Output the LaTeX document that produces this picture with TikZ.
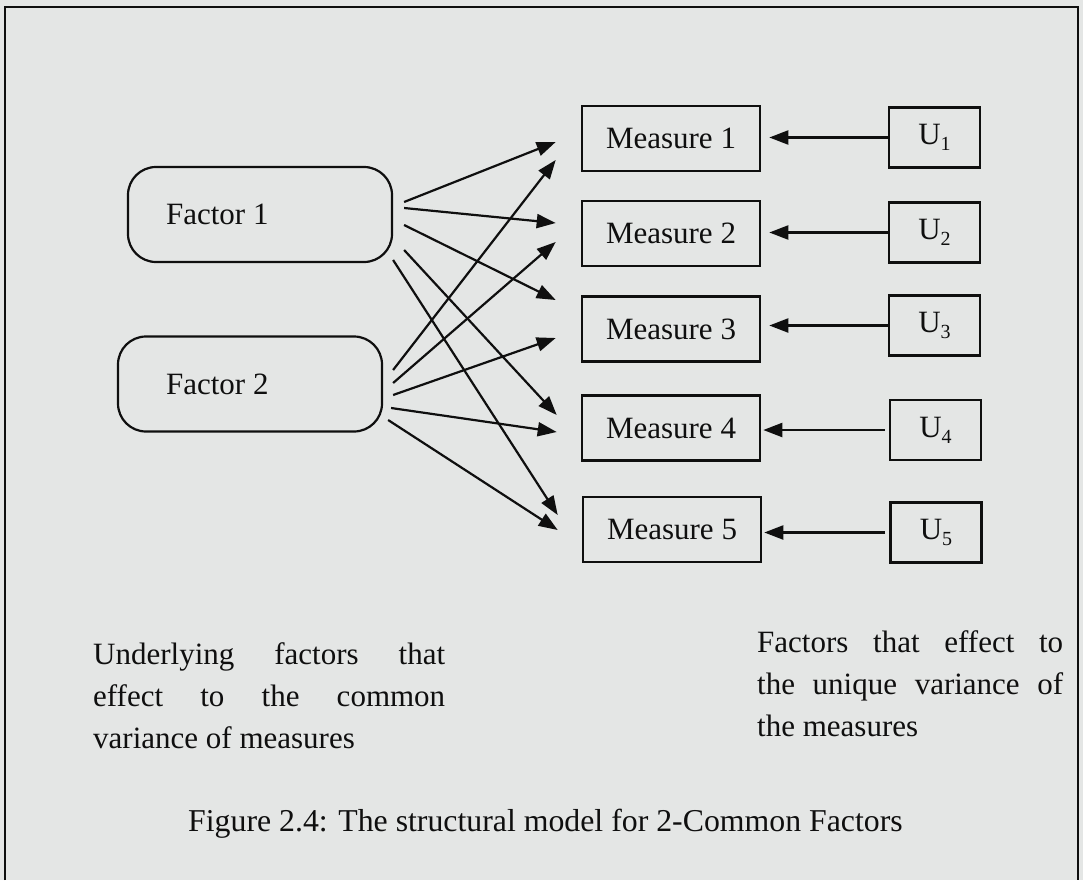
\documentclass[tikz,border=0pt]{standalone}
\usepackage{fontspec}
\setmainfont{Liberation Serif}
\usetikzlibrary{arrows.meta}
\definecolor{paper}{RGB}{228,230,229}
\definecolor{ink}{RGB}{15,15,15}
\newcommand{\usub}[1]{U\raisebox{-6pt}{\fontsize{20}{20}\selectfont #1}}
\begin{document}
\begin{tikzpicture}[x=1pt,y=-1pt,
  font=\fontsize{31}{37}\selectfont,
  every node/.style={text=ink},
  factorbox/.style={draw=ink,line width=2.2pt,rounded corners=28pt,minimum width=264pt,minimum height=95pt,inner sep=0pt},
  measurebox/.style={draw=ink,line width=2.6pt,minimum width=178pt,minimum height=65pt,inner sep=0pt},
  ubox/.style={draw=ink,line width=2.6pt,minimum width=91pt,minimum height=60pt,inner sep=0pt},
  arr/.style={draw=ink,line width=2.2pt,-{Triangle[length=19pt,width=14pt]}},
  plain/.style={anchor=base west,inner sep=0pt}
]
\useasboundingbox (0,0) rectangle (1083,880);
\fill[paper] (0,0) rectangle (1083,880);
% frame
\draw[ink,line width=2.2pt] (5,880) -- (5,7) -- (1078,7) -- (1078,880);

% factor boxes
\node[factorbox] (f1) at (260,214.5) {};
\node[factorbox] (f2) at (250,384) {};
\node[anchor=west,inner sep=0pt] (f1t) at ([xshift=39pt]f1.west) {Factor 1};
\node[anchor=west,inner sep=0pt] (f2t) at ([xshift=49pt]f2.west) {Factor 2};

% measure boxes
\node[measurebox] (m1) at (671,138.5) {Measure 1};
\node[measurebox] (m2) at (671,233.5) {Measure 2};
\node[measurebox] (m3) at (671,329) {Measure 3};
\node[measurebox] (m4) at (671,428) {Measure 4};
\node[measurebox] (m5) at (672,529.5) {Measure 5};

% unique boxes
\node[ubox] (u1) at (934.5,137.5) {\usub{1}};
\node[ubox] (u2) at (934.5,232.5) {\usub{2}};
\node[ubox] (u3) at (934.5,325.5) {\usub{3}};
\node[ubox] (u4) at (935.5,430) {\usub{4}};
\node[ubox] (u5) at (936,532.5) {\usub{5}};

% unique arrows
\draw[arr,shorten >=8pt] (u1.west) -- (m1.east |- u1.west);
\draw[arr,shorten >=8pt] (u2.west) -- (m2.east |- u2.west);
\draw[arr,shorten >=8pt] (u3.west) -- (m3.east |- u3.west);
\draw[arr,shorten <=4pt,shorten >=2pt] (u4.west) -- (m4.east |- u4.west);
\draw[arr,shorten <=4pt,shorten >=2pt] (u5.west) -- (m5.east |- u5.west);

% factor 1 arrows
\draw[arr] ([xshift=11pt,yshift=12.5pt]f1.east) -- ([xshift=-25pt,yshift=-3.5pt]m1.west);
\draw[arr] ([xshift=11pt,yshift=6.5pt]f1.east) -- ([xshift=-25pt,yshift=10.5pt]m2.west);
\draw[arr] ([xshift=11pt,yshift=-10.5pt]f1.east) -- ([xshift=-25pt,yshift=29pt]m3.west);
\draw[arr] ([xshift=11pt,yshift=-35.5pt]f1.east) -- ([xshift=-24pt,yshift=13pt]m4.west);
\draw[arr] ([xshift=0pt,yshift=-45.5pt]f1.east) -- ([xshift=-24pt,yshift=14.5pt]m5.west);

% factor 2 arrows
\draw[arr] ([xshift=10pt,yshift=14pt]f2.east) -- ([xshift=-25pt,yshift=-21.5pt]m1.west);
\draw[arr] ([xshift=10pt,yshift=1pt]f2.east) -- ([xshift=-25pt,yshift=-8.5pt]m2.west);
\draw[arr] ([xshift=10pt,yshift=-11pt]f2.east) -- ([xshift=-25pt,yshift=-9pt]m3.west);
\draw[arr] ([xshift=8pt,yshift=-24pt]f2.east) -- ([xshift=-24pt,yshift=-4pt]m4.west);
\draw[arr] ([xshift=5pt,yshift=-36pt]f2.east) -- ([xshift=-24pt,yshift=-0.5pt]m5.west);

% explanatory texts
\node[plain] (la) at (93,664) {\makebox[352pt][s]{Underlying factors that}};
\node[plain] (lb) at (93,706) {\makebox[352pt][s]{effect to the common}};
\node[plain] (lc) at (93,748) {variance of measures};
\node[plain] (ra) at (757,652) {\makebox[306pt][s]{Factors that effect to}};
\node[plain] (rb) at (757,694) {\makebox[306pt][s]{the unique variance of}};
\node[plain] (rc) at (757,736) {the measures};

% caption
\node[plain] (cap) at (188,831) {\fontsize{31.8}{38}\selectfont Figure 2.4: The structural model for 2-Common Factors};
\end{tikzpicture}
\end{document}
